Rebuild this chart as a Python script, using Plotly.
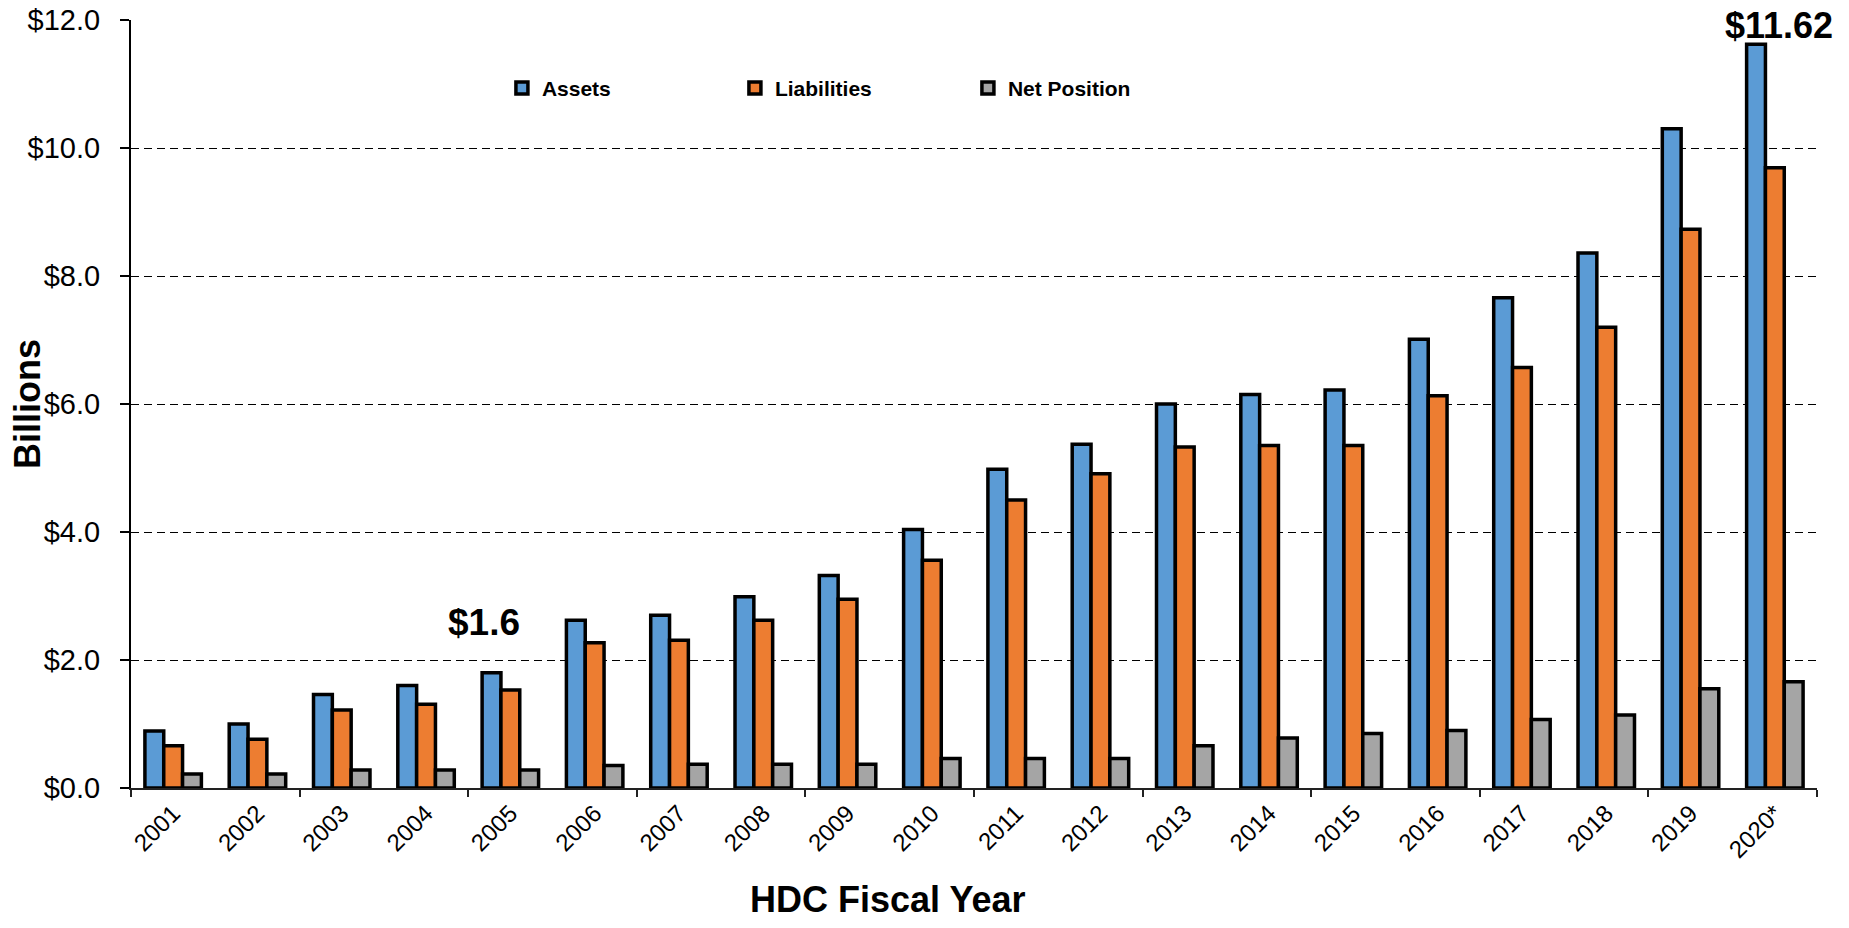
import plotly.graph_objects as go

# HDC balance sheet by fiscal year (billions of dollars)
years = ["2001", "2002", "2003", "2004", "2005", "2006", "2007", "2008", "2009", "2010",
         "2011", "2012", "2013", "2014", "2015", "2016", "2017", "2018", "2019", "2020*"]
assets = [0.89, 1.00, 1.46, 1.60, 1.80, 2.62, 2.70, 2.99, 3.32, 4.04,
          4.98, 5.37, 6.00, 6.15, 6.22, 7.01, 7.66, 8.36, 10.30, 11.62]
liabilities = [0.66, 0.76, 1.22, 1.31, 1.53, 2.27, 2.31, 2.62, 2.95, 3.56,
               4.50, 4.91, 5.33, 5.35, 5.35, 6.13, 6.57, 7.20, 8.73, 9.69]
net_position = [0.22, 0.22, 0.28, 0.28, 0.28, 0.35, 0.37, 0.37, 0.37, 0.46,
                0.46, 0.46, 0.66, 0.78, 0.85, 0.90, 1.07, 1.14, 1.55, 1.66]

series = [
    ("Assets", assets, "#5B9BD5"),
    ("Liabilities", liabilities, "#ED7D31"),
    ("Net Position", net_position, "#A5A5A5"),
]

FONT = "Liberation Sans, Arial, sans-serif"
pos = list(range(len(years)))

fig = go.Figure()
for name, vals, color in series:
    fig.add_trace(go.Bar(
        x=pos, y=vals, name=name,
        marker=dict(color=color, line=dict(color="black", width=3.5)),
    ))

# tick marks between every second year
boundaries = [p - 0.5 for p in pos[::2]] + [pos[-1] + 0.5]

fig.update_layout(
    width=1849, height=928,
    margin=dict(l=131, r=32, t=20, b=140, autoexpand=False),
    paper_bgcolor="white", plot_bgcolor="white",
    barmode="group", bargap=0.33, bargroupgap=0,
    font=dict(family=FONT, color="black"),
    showlegend=True,
    legend=dict(
        orientation="h", x=0.220, y=0.911, xanchor="left", yanchor="middle",
        font=dict(size=21, family=FONT, weight="bold"),
        entrywidth=188, entrywidthmode="pixels", itemwidth=30,
        bgcolor="rgba(0,0,0,0)", traceorder="normal",
    ),
    xaxis=dict(
        automargin=False,
        range=[-0.5, len(years) - 0.5],
        tickmode="array", tickvals=pos, ticktext=years,
        tickangle=-45, ticks="",
        tickfont=dict(size=24, family=FONT),
        showline=True, linecolor="#222222", linewidth=1.5,
        showgrid=False, zeroline=False,
        minor=dict(tickvals=boundaries, ticks="outside", ticklen=7,
                   tickcolor="#222222", tickwidth=1.5, showgrid=False),
    ),
    yaxis=dict(
        automargin=False,
        range=[0, 12], dtick=2, tick0=0,
        tickprefix="$", tickformat=".1f",
        tickfont=dict(size=29, family=FONT),
        ticks="outside", ticklen=9, tickcolor="black", tickwidth=1.5,
        ticklabelstandoff=14,
        showline=True, linecolor="black", linewidth=2,
        showgrid=True, gridcolor="black", gridwidth=1, griddash="8px,5px",
        zeroline=False,
    ),
)

fig.add_annotation(
    text="Billions", textangle=-90, xref="paper", yref="paper",
    x=-0.0617, y=0.5, xanchor="center", yanchor="middle", showarrow=False,
    font=dict(size=36, family=FONT, weight="bold"),
)
fig.add_annotation(
    text="HDC Fiscal Year", xref="paper", yref="paper",
    x=0.4484, y=-0.1458, xanchor="center", yanchor="middle", showarrow=False,
    font=dict(size=36, family=FONT, weight="bold"),
)
# value callouts
fig.add_annotation(
    text="$11.62", x=pos[-1] + 0.05, y=assets[-1], xref="x", yref="y",
    xanchor="center", yanchor="bottom", yshift=-4, showarrow=False,
    font=dict(size=36, family=FONT, weight="bold"),
)
fig.add_annotation(
    text="$1.6", x=pos[3] + 0.69, y=2.58, xref="x", yref="y",
    xanchor="center", yanchor="middle", showarrow=False,
    font=dict(size=37, family=FONT, weight="bold"),
)

fig.write_html("out.html")
